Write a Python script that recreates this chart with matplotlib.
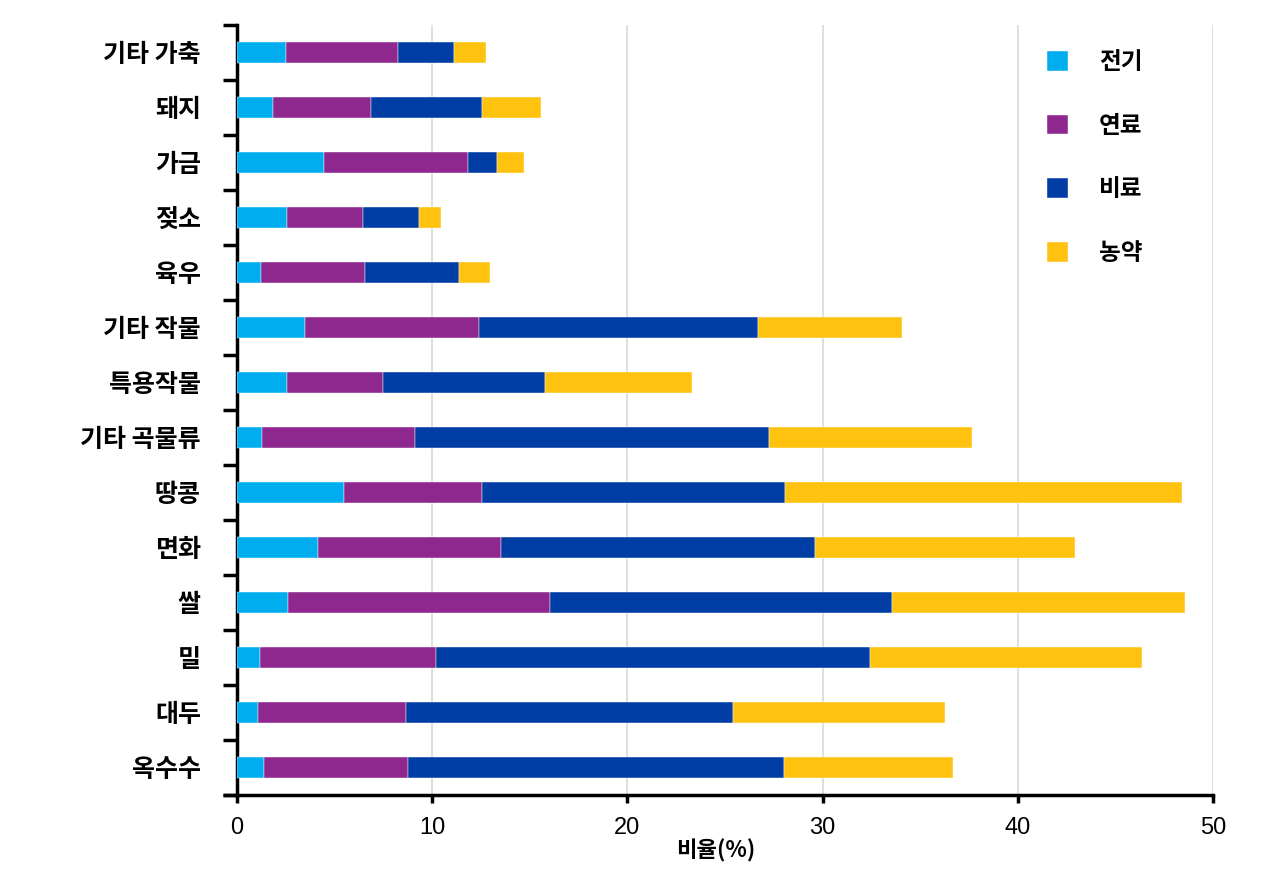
import matplotlib
matplotlib.use("Agg")
import matplotlib.pyplot as plt
from matplotlib.lines import Line2D
import numpy as np

plt.rcParams['font.family'] = ['Noto Sans CJK KR', 'DejaVu Sans']

categories = ['옥수수', '대두', '밀', '쌀', '면화', '땅콩', '기타 곡물류',
              '특용작물', '기타 작물', '육우', '젖소', '가금', '돼지', '기타 가축']
electricity = [1.38, 1.08, 1.18, 2.61, 4.15, 5.48, 1.28, 2.56, 3.48, 1.23, 2.56, 4.46, 1.85, 2.50]
fuel        = [7.38, 7.58, 9.01, 13.42, 9.37, 7.07, 7.84, 4.92, 8.92, 5.33, 3.89, 7.37, 5.01, 5.75]
fertilizer  = [19.26, 16.75, 22.24, 17.52, 16.08, 15.52, 18.13, 8.30, 14.30, 4.81, 2.87, 1.49, 5.69, 2.85]
pesticide   = [8.66, 10.86, 13.93, 15.02, 13.33, 20.33, 10.40, 7.52, 7.37, 1.59, 1.13, 1.38, 3.02, 1.65]
series_names = ['전기', '연료', '비료', '농약']
colors = ['#00AEEF', '#8E278E', '#003DA5', '#FFC20E']
xticks = [0, 10, 20, 30, 40, 50]
xlabel = '비율(%)'

fig = plt.figure(figsize=(12.8, 8.74), dpi=100)
ax = fig.add_axes([237/1280, 1-795/874, (1213-237)/1280, (795-25)/874])

y = np.arange(len(categories))
left = np.zeros(len(categories))
for vals, name, c in zip([electricity, fuel, fertilizer, pesticide], series_names, colors):
    ax.barh(y, vals, left=left, height=0.38, color=c, label=name,
            edgecolor='white', linewidth=0.3, zorder=3)
    left = left + np.array(vals)

ax.set_xlim(0, 50)
ax.set_ylim(-0.5, len(categories) - 0.5)
ax.set_xticks(xticks)
ax.set_xticklabels([str(t) for t in xticks], fontsize=17,
                   family=['Liberation Sans', 'DejaVu Sans'])
ax.set_yticks(y)
ax.set_yticklabels(categories, fontsize=18, fontweight='bold')
ax.set_yticks(np.arange(len(categories) + 1) - 0.5, minor=True)
ax.tick_params(axis='y', which='major', length=0, pad=26)
ax.tick_params(axis='y', which='minor', length=10, width=2.5, direction='out')
ax.tick_params(axis='x', which='major', length=6, width=2.5, pad=10)

for x in xticks[1:]:
    ax.axvline(x, color='#d9d9d9', linewidth=1.2, zorder=1)

for s in ['top', 'right']:
    ax.spines[s].set_visible(False)
ax.spines['left'].set_linewidth(2.5)
ax.spines['bottom'].set_linewidth(2.5)
# extend bottom axis line to the left
ax.add_line(Line2D([-14/976, 0], [0, 0], transform=ax.transAxes, color='black',
                   linewidth=2.5, clip_on=False, solid_capstyle='butt'))

ax.set_xlabel(xlabel, fontsize=16, fontweight='bold')
ax.xaxis.set_label_coords(0.490, -0.057)

leg = ax.legend(loc='upper left', bbox_to_anchor=(0.808, 0.995), frameon=False,
                prop={'weight': 'bold', 'size': 17},
                handlelength=0.9, handleheight=0.9, labelspacing=1.68,
                handletextpad=1.3)

fig.savefig('out.png', dpi=100, facecolor='white')
